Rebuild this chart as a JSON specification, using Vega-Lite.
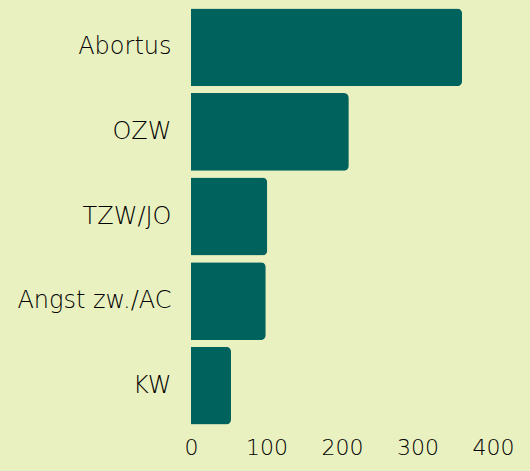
{
  "$schema": "https://vega.github.io/schema/vega-lite/v6.json",
  "autosize": {"type": "none"},
  "width": 302,
  "height": 423,
  "padding": {"left": 191, "top": 5, "right": 37, "bottom": 43},
  "background": "#EAF1C1",
  "config": {
    "view": {"stroke": null},
    "font": "DejaVu Sans",
    "axis": {"labelFont": "DejaVu Sans", "labelFontWeight": 200, "labelColor": "#000000", "grid": false, "domain": false, "ticks": false}
  },
  "data": {
    "values": [
      {"cat": "Abortus", "n": 359},
      {"cat": "OZW", "n": 209},
      {"cat": "TZW/JO", "n": 101},
      {"cat": "Angst zw./AC", "n": 99},
      {"cat": "KW", "n": 53}
    ]
  },
  "mark": {"type": "bar", "color": "#00625D", "cornerRadiusEnd": 5},
  "encoding": {
    "y": {"field": "cat", "type": "nominal", "sort": null, "title": null,
      "scale": {"paddingInner": 0.08, "paddingOuter": 0.04},
      "axis": {"labelPadding": 20, "labelLimit": 200, "labelFontSize": 24}},
    "x": {"field": "n", "type": "quantitative", "title": null,
      "scale": {"domain": [0, 400], "nice": false},
      "axis": {"values": [0, 100, 200, 300, 400], "labelPadding": 9, "labelFlush": false, "labelFontSize": 22}}
  }
}
